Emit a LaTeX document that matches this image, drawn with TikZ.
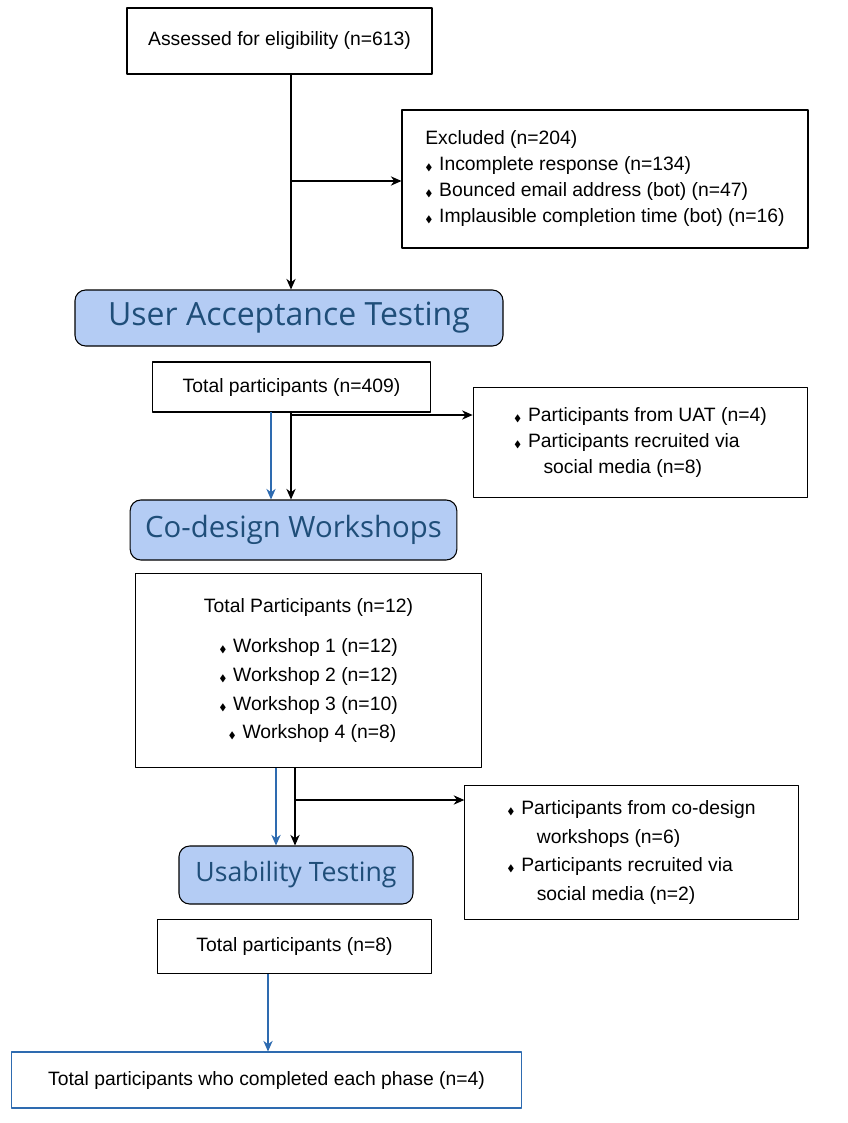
\documentclass[tikz,border=0pt]{standalone}
\usepackage{amssymb}
\usepackage{fontspec}
\setmainfont{Liberation Sans}
\newfontfamily\phasefont{Open Sans}
\usetikzlibrary{arrows.meta}
\definecolor{phasefill}{HTML}{B4CCF4}
\definecolor{phasetext}{HTML}{1F4E79}
\definecolor{flowblue}{HTML}{2E6BB0}
\newcommand{\itm}{{\scriptsize$\blacklozenge$}\hspace{5pt}}
\tikzset{
  box/.style={draw, thick, fill=white, font=\fontsize{14.5}{19.5}\selectfont, inner sep=4pt},
  phase/.style={draw, thick, rounded corners=8pt, fill=phasefill, text=phasetext,
    font=\phasefont\fontsize{23}{26}\selectfont},
  flow/.style={-{Stealth[length=8pt,width=7pt]}, thick},
  blueflow/.style={flow, flowblue}
}
\begin{document}
\begin{tikzpicture}[x=0.75pt, y=-0.75pt, line join=round]
  \useasboundingbox (0,0) rectangle (847,1123);

  % boxes
  \node[box, minimum width=228.75pt, minimum height=49.5pt] (assess) at (279.5,41) {Assessed for eligibility (n=613)};
  \node[box, minimum width=304.5pt, minimum height=103.5pt, align=left] (excl) at (605,179)
    {Excluded (n=204)\\
     \itm Incomplete response (n=134)\\
     \itm Bounced email address (bot) (n=47)\\
     \itm Implausible completion time (bot) (n=16)};
  \node[phase, minimum width=321pt, minimum height=42pt, font=\phasefont\fontsize{24}{26}\selectfont] (uat) at (289,318) {User Acceptance Testing};
  \node[box, minimum width=209pt, minimum height=37.5pt] (tot1) at (291.5,387) {Total participants (n=409)};
  \node[box, minimum width=251pt, minimum height=82pt, align=left] (add1) at (640.5,442.5)
    {\itm Participants from UAT (n=4)\\
     \itm Participants recruited via\\
     \hspace{22pt}social media (n=8)};
  \node[phase, minimum width=245pt, minimum height=45pt, font=\phasefont\fontsize{22}{26}\selectfont] (cod) at (293.5,530) {Co-design Workshops};
  \node[box, minimum width=259pt, minimum height=146pt, align=center, font=\fontsize{14.5}{21.5}\selectfont] (tot2) at (308.5,670.5)
    {Total Participants (n=12)\\[9pt]
     \itm Workshop 1 (n=12)\\
     \itm Workshop 2 (n=12)\\
     \itm Workshop 3 (n=10)\\
     \hspace{6pt}\itm Workshop 4 (n=8)};
  \node[box, minimum width=250pt, minimum height=101pt, align=left, font=\fontsize{14.5}{21.5}\selectfont] (add2) at (631.5,852.5)
    {\itm Participants from co-design\\
     \hspace{22pt}workshops (n=6)\\
     \itm Participants recruited via\\
     \hspace{22pt}social media (n=2)};
  \node[phase, minimum width=175.5pt, minimum height=43.5pt, font=\phasefont\fontsize{20}{24}\selectfont] (usa) at (296,875) {Usability Testing};
  \node[box, minimum width=206pt, minimum height=41pt] (tot3) at (294.5,946.5) {Total participants (n=8)};
  \node[box, draw=flowblue, minimum width=383pt, minimum height=42pt] (final) at (266.5,1080) {Total participants who completed each phase (n=4)};

  % connectors
  \coordinate (a1) at (291,74);
  \coordinate (a2) at (291,181);
  \draw[flow] (a1) -- (a1 |- uat.north);
  \draw[flow] (a2) -- (a2 -| excl.west);

  \coordinate (b1) at (271,412);
  \coordinate (b2) at (291,412);
  \coordinate (b3) at (291,415);
  \draw[blueflow] (b1) -- (b1 |- cod.north);
  \draw[flow] (b2) -- (b2 |- cod.north);
  \draw[flow] (b3) -- (b3 -| add1.west);

  \coordinate (c1) at (276,768);
  \coordinate (c2) at (295,768);
  \coordinate (c3) at (295,800);
  \draw[blueflow] (c1) -- (c1 |- usa.north);
  \draw[flow] (c2) -- (c2 |- usa.north);
  \draw[flow] (c3) -- (c3 -| add2.west);

  \coordinate (d1) at (268,974);
  \draw[blueflow] (d1) -- (d1 |- final.north);
\end{tikzpicture}
\end{document}
